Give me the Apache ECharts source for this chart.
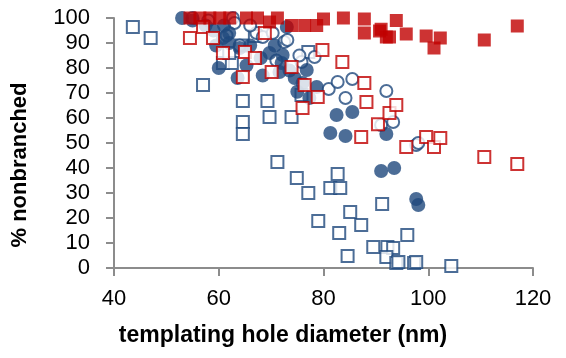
<!DOCTYPE html>
<html>
<head>
<meta charset="utf-8">
<script src="https://cdn.jsdelivr.net/npm/echarts@6/dist/echarts.min.js"></script>
<style>
  html, body { margin: 0; padding: 0; background: #fff; }
  #chart { width: 566px; height: 358px; }
</style>
</head>
<body>
<div id="chart"></div>
<script>
const xTicks = [40, 60, 80, 100, 120]
const yTicks = [0, 10, 20, 30, 40, 50, 60, 70, 80, 90, 100]

// [diameter nm, % nonbranched]
const openBlueSquares = [
  [43.6, 96.4], [47, 92], [60.8, 82], [62.5, 82], [57, 73.2], [64.6, 66.8], [69.3, 66.8],
  [69.7, 60.4], [73.9, 60.4], [64.6, 58.4], [64.6, 53.6], [75.8, 69.2], [71.2, 42.4],
  [74.9, 36], [77.1, 30], [82.7, 37.6], [81.3, 32], [83.2, 32], [79, 18.8], [85.1, 22.4],
  [87.2, 17.2], [83, 14], [84.6, 4.8], [91.2, 25.6], [96, 13.2], [89.5, 8.4], [92.2, 8.4],
  [93.3, 8], [92, 4.4], [93.9, 2], [94.3, 2.4], [97.3, 2], [97.7, 2.4], [104.4, 0.8],
  [64.4, 89], [66.9, 92.8], [77.1, 86.4], [62, 86]
]
const openBlueCircles = [
  [62.7, 100], [63, 98], [61.5, 93], [64, 89], [67.2, 94], [68.4, 92.4], [70.3, 94],
  [72.5, 90.4], [73.1, 91.2], [71, 83], [75.8, 82.4], [78.3, 84.4], [75.4, 85], [81, 71.6],
  [82.7, 74.4], [85.5, 75.6], [84.2, 68], [92, 70.8], [91, 57.2], [93.3, 58.4], [97.7, 49.2],
  [98.1, 50], [55, 100], [58, 99], [66, 97]
]
const filledBlueCircles = [
  [53, 100], [55, 99], [57.5, 97], [61, 97], [60.8, 92], [59.5, 89], [60, 80], [63.6, 76],
  [65.3, 81], [68.4, 77], [71.6, 78.4], [69.7, 86], [70.7, 89], [73, 96.4], [72.2, 85.2],
  [74.5, 76], [76.8, 79.2], [78.7, 72.4], [77.3, 68], [82.5, 61.2], [85.5, 62.4], [81.3, 54],
  [84.2, 52.8], [92, 53.6], [91, 38.8], [93.5, 40], [97.7, 27.6], [98.1, 25.2], [62, 90], [64, 88],
  [72, 82], [76, 74], [73.5, 79], [66, 89], [68, 84], [62, 94], [59, 95], [75, 70.5]
]
const openRedSquares = [
  [54.5, 92], [57, 96.4], [58.9, 92], [60.8, 86], [64.6, 76.4], [65, 86.4], [66.9, 84],
  [68.8, 94], [70.1, 78.4], [73.9, 80.4], [76.4, 73.2], [78.9, 68.4], [76, 64], [79.8, 87.2],
  [83.6, 82.4], [87.8, 74], [88.2, 66.4], [87.2, 52.4], [90.4, 57.5], [92.6, 62], [93.9, 65.2],
  [95.8, 48.4], [99.6, 52.4], [101.1, 48.4], [102.3, 52], [110.7, 44.4], [117, 41.6]
]
const filledRedSquares = [
  [54.5, 100], [56.4, 100], [58.3, 100], [60.2, 100], [62.1, 100], [65.3, 100], [67.4, 100],
  [69.7, 98.4], [71.2, 100], [73.9, 97], [76.4, 97], [78.7, 97], [80, 99.6], [83.8, 100],
  [87.8, 99.6], [87.8, 94], [90.7, 94.8], [91, 95.5], [92, 92.4], [92.6, 92.4], [93.9, 99],
  [95.8, 93.6], [99.6, 92.8], [102.3, 92], [101.1, 88], [110.7, 91.2], [117, 96.8]
]

const blue = '#1F497D'
const red = '#C00000'
const axisGrey = '#8c8c8c'
const font = 'Liberation Sans'

const openStyle = (c) => ({ color: '#fff', borderColor: c, borderWidth: 2 })

const chart = echarts.init(document.getElementById('chart'))
chart.setOption({
  animation: false,
  grid: { left: 114, right: 33, top: 18, bottom: 90 },
  xAxis: {
    type: 'value',
    min: xTicks[0],
    max: xTicks[xTicks.length - 1],
    interval: 20,
    axisLine: { onZero: false, lineStyle: { color: axisGrey, width: 2 } },
    axisTick: { show: true, length: 8, lineStyle: { color: axisGrey, width: 2 } },
    axisLabel: { color: '#000', fontSize: 22, fontFamily: font, margin: 20 },
    splitLine: { show: false }
  },
  yAxis: {
    type: 'value',
    min: yTicks[0],
    max: yTicks[yTicks.length - 1],
    interval: 10,
    axisLine: { show: true, lineStyle: { color: axisGrey, width: 2 } },
    axisTick: { show: true, length: 8, lineStyle: { color: axisGrey, width: 2 } },
    axisLabel: { color: '#000', fontSize: 22, fontFamily: font, margin: 24 },
    splitLine: { show: false }
  },
  graphic: [
    {
      type: 'text',
      x: 20, y: 165, rotation: Math.PI / 2,
      style: {
        text: '% nonbranched', fill: '#000', font: 'bold 22px ' + font,
        align: 'center', verticalAlign: 'middle'
      }
    },
    {
      type: 'text',
      x: 283, y: 336,
      style: {
        text: 'templating hole diameter (nm)', fill: '#000', font: 'bold 23px ' + font,
        align: 'center', verticalAlign: 'middle'
      }
    }
  ],
  series: [
    { type: 'scatter', data: openBlueSquares, symbol: 'rect', symbolSize: 12, itemStyle: openStyle(blue) },
    { type: 'scatter', data: openBlueCircles, symbol: 'circle', symbolSize: 12, itemStyle: openStyle(blue) },
    { type: 'scatter', data: filledBlueCircles, symbol: 'circle', symbolSize: 14, itemStyle: { color: blue } },
    { type: 'scatter', data: openRedSquares, symbol: 'rect', symbolSize: 12, itemStyle: openStyle(red) },
    { type: 'scatter', data: filledRedSquares, symbol: 'rect', symbolSize: 13, itemStyle: { color: red } }
  ]
})
</script>
</body>
</html>
